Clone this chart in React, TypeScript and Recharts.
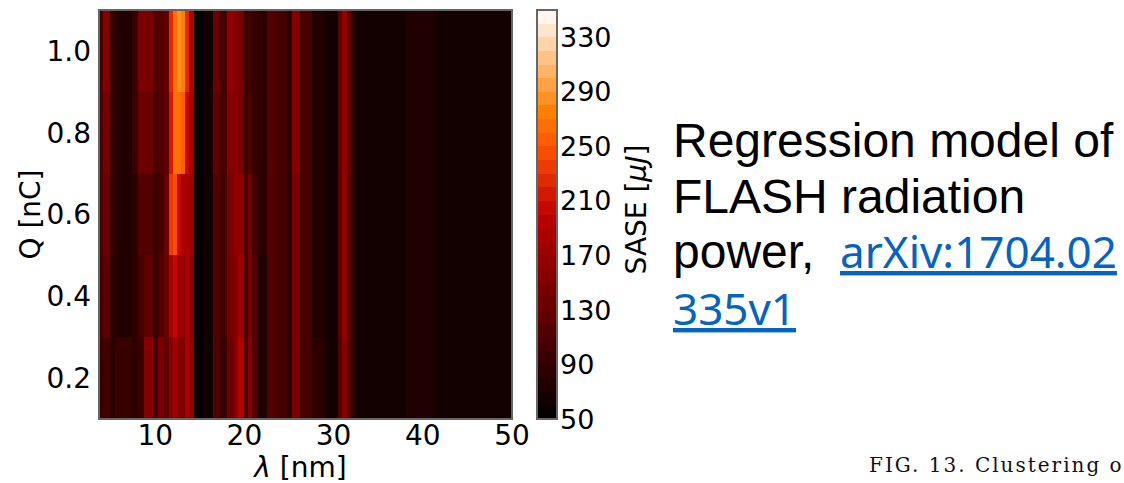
import { ComposedChart, ReferenceArea, Scatter, XAxis, YAxis } from "recharts";

// wavelength stripe edges [nm]
const lambdaEdges = [
  3.7, 4.1, 4.9, 5.5, 7.4, 8.1, 8.8, 9.7, 10.3, 11.0, 11.6, 12.0, 12.4, 12.9,
  13.3, 13.8, 14.4, 15.5, 16.5, 17.2, 18.0, 18.8, 19.3, 19.9, 20.4, 20.8, 21.4,
  22.5, 23.5, 24.8, 25.3, 26.2, 27.6, 29.0, 30.5, 30.9, 31.5, 31.9, 32.5, 38.1,
  41.1, 50,
];

// charge bands [nC]
const qEdges = [0.1, 0.3, 0.5, 0.7, 0.9, 1.1];

// SASE energy [uJ] per stripe, one list per charge band (bottom to top)
const saseQ01 = [95, 100, 80, 90, 80, 90, 150, 100, 140, 120, 150, 170, 150, 140, 180, 160, 55, 60, 110, 95, 130, 150, 190, 100, 150, 110, 75, 115, 100, 80, 145, 105, 80, 65, 110, 150, 110, 80, 62, 72, 64];
const saseQ03 = [100, 120, 85, 75, 80, 100, 120, 90, 110, 130, 180, 200, 170, 160, 180, 150, 55, 60, 110, 100, 140, 150, 170, 100, 140, 110, 75, 110, 105, 80, 140, 105, 75, 65, 120, 160, 115, 80, 62, 72, 64];
const saseQ05 = [105, 130, 90, 70, 85, 110, 110, 95, 100, 130, 230, 240, 200, 180, 180, 170, 55, 60, 110, 100, 140, 160, 160, 100, 140, 100, 80, 110, 105, 80, 140, 105, 75, 65, 120, 160, 115, 80, 62, 72, 64];
const saseQ07 = [105, 140, 90, 70, 90, 130, 130, 105, 110, 120, 210, 260, 260, 250, 200, 180, 55, 65, 120, 100, 150, 150, 145, 95, 110, 90, 80, 110, 105, 85, 150, 105, 75, 65, 120, 165, 120, 80, 62, 72, 64];
const saseQ09 = [105, 150, 90, 72, 95, 140, 140, 110, 115, 120, 220, 260, 280, 275, 220, 190, 55, 65, 130, 100, 160, 150, 140, 95, 100, 90, 80, 110, 105, 85, 155, 105, 75, 65, 120, 165, 120, 80, 62, 72, 64];

const saseRows = [saseQ01, saseQ03, saseQ05, saseQ07, saseQ09];

const xTicks = [10, 20, 30, 40, 50];
const yTicks = [0.2, 0.4, 0.6, 0.8, 1.0];
const levels = [50, 60, 70, 80, 90, 100, 110, 120, 130, 140, 150, 160, 170, 180, 190, 200, 210, 220, 230, 240, 250, 260, 270, 280, 290, 300, 310, 320, 330, 340, 350];
const cbarTicks = [50, 90, 130, 170, 210, 250, 290, 330];

const FONT = "DejaVu Sans";

// matplotlib gist_heat
function gistHeat(v: number) {
  const t = Math.min(1, Math.max(0, (v - 50) / 300));
  const r = Math.min(1, 1.5 * t);
  const g = Math.max(0, Math.min(1, 2 * t - 1));
  const b = Math.max(0, Math.min(1, 4 * t - 3));
  return `rgb(${Math.round(r * 255)},${Math.round(g * 255)},${Math.round(b * 255)})`;
}

// contourf style: colour of the level band the value falls in
function bandColor(v: number) {
  const lo = Math.floor((v - 50) / 10) * 10 + 50;
  return gistHeat(Math.min(345, lo + 5));
}

const cells = saseRows.flatMap((row, qi) =>
  row.map((v, li) => ({
    x1: lambdaEdges[li],
    x2: lambdaEdges[li + 1],
    y1: qEdges[qi],
    y2: qEdges[qi + 1],
    lambda: (lambdaEdges[li] + lambdaEdges[li + 1]) / 2,
    q: (qEdges[qi] + qEdges[qi + 1]) / 2,
    value: v,
  }))
);

const bands = levels.slice(0, -1).map((lo, i) => ({
  pos: 0.5,
  lo,
  hi: levels[i + 1],
  mid: (lo + levels[i + 1]) / 2,
}));

const tickStyle = { fontSize: 28, fill: "#000", fontFamily: FONT };

export default function App() {
  return (
    <div
      style={{
        position: "absolute",
        left: 0,
        top: 0,
        width: 1124,
        height: 483,
        overflow: "hidden",
        background: "#fff",
      }}
    >
      <style>{".recharts-reference-area-rect{shape-rendering:crispEdges}"}</style>
      <div style={{ position: "absolute", left: 0, top: 0 }}>
        <ComposedChart
          width={530}
          height={483}
          data={cells}
          margin={{ top: 10, right: 18, bottom: 0, left: 0 }}
        >
          <XAxis
            type="number"
            dataKey="lambda"
            domain={[3.7, 50]}
            ticks={xTicks}
            tickLine={false}
            axisLine={false}
            tickMargin={0}
            height={64}
            tick={tickStyle}
            label={{
              content: ({ viewBox }: any) => (
                <text
                  x={viewBox.x + viewBox.width / 2 - 5}
                  y={viewBox.y + 58}
                  textAnchor="middle"
                  fontSize={28}
                  fontFamily={FONT}
                >
                  <tspan fontStyle="italic">λ</tspan> [nm]
                </text>
              ),
            }}
          />
          <YAxis
            type="number"
            dataKey="q"
            domain={[0.1, 1.1]}
            ticks={yTicks}
            tickFormatter={(v: number) => v.toFixed(1)}
            tickLine={false}
            axisLine={false}
            width={99}
            tick={tickStyle}
            label={{
              content: ({ viewBox }: any) => (
                <text
                  x={30}
                  y={viewBox.y + viewBox.height / 2}
                  textAnchor="middle"
                  dominantBaseline="central"
                  transform={`rotate(-90 30 ${viewBox.y + viewBox.height / 2})`}
                  fontSize={28}
                  fontFamily={FONT}
                >
                  Q [nC]
                </text>
              ),
            }}
          />
          {cells.map((c, i) => (
            <ReferenceArea
              key={i}
              x1={c.x1}
              x2={c.x2}
              y1={c.y1}
              y2={c.y2}
              fill={bandColor(c.value)}
              fillOpacity={1}
              stroke="none"
              ifOverflow="hidden"
            />
          ))}
          <Scatter dataKey="q" isAnimationActive={false} shape={() => <g />} />
          <ReferenceArea
            x1={3.7}
            x2={50}
            y1={0.1}
            y2={1.1}
            fill="none"
            stroke="#666"
            strokeWidth={1.2}
          />
        </ComposedChart>
      </div>

      <div style={{ position: "absolute", left: 530, top: 0 }}>
        <ComposedChart
          width={140}
          height={483}
          data={bands}
          margin={{ top: 10, right: 0, bottom: 64, left: 7 }}
        >
          <XAxis type="number" dataKey="pos" domain={[0, 1]} hide />
          <YAxis
            type="number"
            dataKey="mid"
            orientation="right"
            domain={[50, 350]}
            ticks={cbarTicks}
            tickLine={false}
            axisLine={false}
            tickSize={3}
            tickMargin={0}
            width={113}
            tick={{ fontSize: 27, fill: "#000", fontFamily: FONT }}
            label={{
              content: ({ viewBox }: any) => {
                const cx = 106;
                const cy = viewBox.y + viewBox.height / 2 - 5;
                return (
                  <text
                    x={cx}
                    y={cy}
                    textAnchor="middle"
                    dominantBaseline="central"
                    transform={`rotate(-90 ${cx} ${cy})`}
                    fontSize={28}
                    fontFamily={FONT}
                  >
                    SASE [<tspan fontStyle="italic">μJ</tspan>]
                  </text>
                );
              },
            }}
          />
          {bands.map((b) => (
            <ReferenceArea
              key={b.lo}
              x1={0}
              x2={1}
              y1={b.lo}
              y2={b.hi}
              fill={gistHeat(b.mid)}
              fillOpacity={1}
              stroke="none"
            />
          ))}
          <Scatter dataKey="mid" isAnimationActive={false} shape={() => <g />} />
          <ReferenceArea
            x1={0}
            x2={1}
            y1={50}
            y2={350}
            fill="none"
            stroke="#666"
            strokeWidth={1.2}
          />
        </ComposedChart>
      </div>

      <svg
        width={1124}
        height={483}
        style={{ position: "absolute", left: 0, top: 0, pointerEvents: "none" }}
      >
        <g fontFamily="Liberation Sans" fontSize={48} fill="#000">
          <text x={673} y={157}>Regression model of</text>
          <text x={673} y={213}>FLASH radiation</text>
          <text x={673} y={268}>power,</text>
        </g>
        <g
          fontFamily="Noto Sans"
          fontSize={44}
          fill="#0563C1"
          style={{ textDecoration: "underline" }}
        >
          <text x={840} y={268}>arXiv:1704.02</text>
          <text x={673} y={325}>335v1</text>
        </g>
        <text
          x={869}
          y={472}
          fontFamily="DejaVu Serif"
          fontSize={20}
          textLength={262}
          lengthAdjust="spacing"
          fill="#111"
        >
          FIG. 13. Clustering of
        </text>
      </svg>
    </div>
  );
}
